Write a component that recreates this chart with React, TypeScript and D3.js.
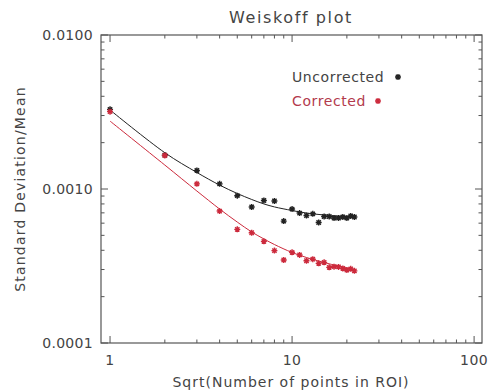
import { useMemo } from 'react';
import * as d3 from 'd3';

// sqrt(number of points in ROI)
const roiSize = [1, 2, 3, 4, 5, 6, 7, 8, 9, 10, 11, 12, 13, 14, 15, 16, 17, 18, 19, 20, 21, 22];

const uncorrected = [
  0.00329, 0.00166, 0.00132, 0.00108, 0.000905, 0.000764, 0.000842, 0.000836, 0.000619, 0.000741, 0.000698,
  0.000673, 0.00069, 0.000606, 0.000663, 0.000663, 0.000648, 0.000648, 0.000658, 0.000648, 0.000668, 0.000658,
];

const corrected = [
  0.00318, 0.00165, 0.00108, 0.000719, 0.000547, 0.00052, 0.000457, 0.000398, 0.000346, 0.000388, 0.000373,
  0.000342, 0.00035, 0.000329, 0.000334, 0.00031, 0.000313, 0.000312, 0.000305, 0.000298, 0.000303, 0.000294,
];

// fitted curves
const fitX = [1, 2, 3, 4, 5, 6, 7, 8, 10, 12, 15, 18, 22];
const fitUncorrected = [
  0.00326, 0.00172, 0.00128, 0.00106, 0.000935, 0.000855, 0.0008, 0.000765, 0.000725, 0.000698, 0.000678,
  0.000667, 0.000658,
];
const fitCorrected = [
  0.00276, 0.00143, 0.00097, 0.000741, 0.00061, 0.000526, 0.000474, 0.000436, 0.000387, 0.000359, 0.000333,
  0.000316, 0.0003,
];

const yTickValues = [0.01, 0.001, 0.0001];
const yTickLabels = ['0.0100', '0.0010', '0.0001'];
const xTickValues = [1, 10, 100];
const xTickLabels = ['1', '10', '100'];

const W = 492;
const H = 392;
const margin = { top: 35, right: 10, bottom: 49, left: 101 };
const FONT = '"DejaVu Sans", Verdana, sans-serif';
const AXIS = '#555';
const TEXT = '#444';
const BLACK = '#222';
const RED = '#cc2a3c';

function Asterisk({ x, y, color }: { x: number; y: number; color: string }) {
  const r = 3;
  const d = r * 0.72;
  return (
    <path
      d={`M${x - r},${y}H${x + r}M${x},${y - r}V${y + r}M${x - d},${y - d}L${x + d},${y + d}M${x - d},${y + d}L${x + d},${y - d}`}
      stroke={color}
      strokeWidth={1.4}
      fill="none"
    />
  );
}

export default function App() {
  const x = useMemo(() => d3.scaleLog().domain([0.892, 110.5]).range([margin.left, W - margin.right]), []);
  const y = useMemo(() => d3.scaleLog().domain([0.0001, 0.01]).range([H - margin.bottom, margin.top]), []);

  const line = d3
    .line<number>()
    .x((_, i) => x(fitX[i]))
    .y((d) => y(d))
    .curve(d3.curveCatmullRom.alpha(0.5));

  const x0 = margin.left;
  const x1 = W - margin.right;
  const y0 = H - margin.bottom;
  const y1 = margin.top;

  const xMinor: number[] = [];
  for (const dec of [1, 10]) for (let k = 2; k <= 9; k++) xMinor.push(dec * k);
  const yMinor: number[] = [];
  for (const dec of [0.0001, 0.001]) for (let k = 2; k <= 9; k++) yMinor.push(dec * k);

  const major = 7;
  const minor = 3.5;

  return (
    <div style={{ position: 'fixed', left: 0, top: 0 }}>
      <svg width={W} height={H} style={{ display: 'block', background: '#fff' }} fontFamily={FONT}>
        <text x={291} y={23} textAnchor="middle" fontSize={16} letterSpacing={1.6} fill={TEXT}>
          Weiskoff plot
        </text>

        {/* frame */}
        <rect x={x0} y={y1} width={x1 - x0} height={y0 - y1} fill="none" stroke={AXIS} strokeWidth={1.2} />

        {/* x ticks bottom & top */}
        {xTickValues.map((v) => (
          <g key={`xm${v}`} stroke={AXIS}>
            <line x1={x(v)} x2={x(v)} y1={y0} y2={y0 - major} />
            <line x1={x(v)} x2={x(v)} y1={y1} y2={y1 + major} />
          </g>
        ))}
        {xMinor.map((v) => (
          <g key={`xn${v}`} stroke={AXIS}>
            <line x1={x(v)} x2={x(v)} y1={y0} y2={y0 - minor} />
            <line x1={x(v)} x2={x(v)} y1={y1} y2={y1 + minor} />
          </g>
        ))}
        {/* y ticks left & right */}
        {yTickValues.map((v) => (
          <g key={`ym${v}`} stroke={AXIS}>
            <line x1={x0} x2={x0 + major} y1={y(v)} y2={y(v)} />
            <line x1={x1} x2={x1 - major} y1={y(v)} y2={y(v)} />
          </g>
        ))}
        {yMinor.map((v) => (
          <g key={`yn${v}`} stroke={AXIS}>
            <line x1={x0} x2={x0 + minor} y1={y(v)} y2={y(v)} />
            <line x1={x1} x2={x1 - minor} y1={y(v)} y2={y(v)} />
          </g>
        ))}

        {/* tick labels */}
        {xTickValues.map((v, i) => (
          <text key={`xl${v}`} x={x(v)} y={y0 + 22} textAnchor="middle" fontSize={14} letterSpacing={0.5} fill={TEXT}>
            {xTickLabels[i]}
          </text>
        ))}
        {yTickValues.map((v, i) => (
          <text key={`yl${v}`} x={x0 - 8} y={y(v) + 5} textAnchor="end" fontSize={14} letterSpacing={0.3} fill={TEXT}>
            {yTickLabels[i]}
          </text>
        ))}

        {/* axis titles */}
        <text x={291} y={H - 5} textAnchor="middle" fontSize={14} letterSpacing={1} fill={TEXT}>
          Sqrt(Number of points in ROI)
        </text>
        <text
          transform={`translate(25, ${(y0 + y1) / 2}) rotate(-90)`}
          textAnchor="middle"
          fontSize={14}
          letterSpacing={1.2}
          fill={TEXT}
        >
          Standard Deviation/Mean
        </text>

        {/* fits */}
        <path d={line(fitUncorrected) ?? ''} fill="none" stroke={BLACK} strokeWidth={1} />
        <path d={line(fitCorrected) ?? ''} fill="none" stroke={RED} strokeWidth={1} />

        {/* points */}
        {uncorrected.map((v, i) => (
          <Asterisk key={`u${i}`} x={x(roiSize[i])} y={y(v)} color={BLACK} />
        ))}
        {corrected.map((v, i) => (
          <Asterisk key={`c${i}`} x={x(roiSize[i])} y={y(v)} color={RED} />
        ))}

        {/* legend */}
        <text x={292} y={82} fontSize={14} letterSpacing={0.6} fill={TEXT}>
          Uncorrected
        </text>
        <Asterisk x={398} y={77} color={BLACK} />
        <text x={292} y={106} fontSize={14} letterSpacing={0.6} fill="#b33a4c">
          Corrected
        </text>
        <Asterisk x={378} y={101} color={RED} />
      </svg>
    </div>
  );
}
